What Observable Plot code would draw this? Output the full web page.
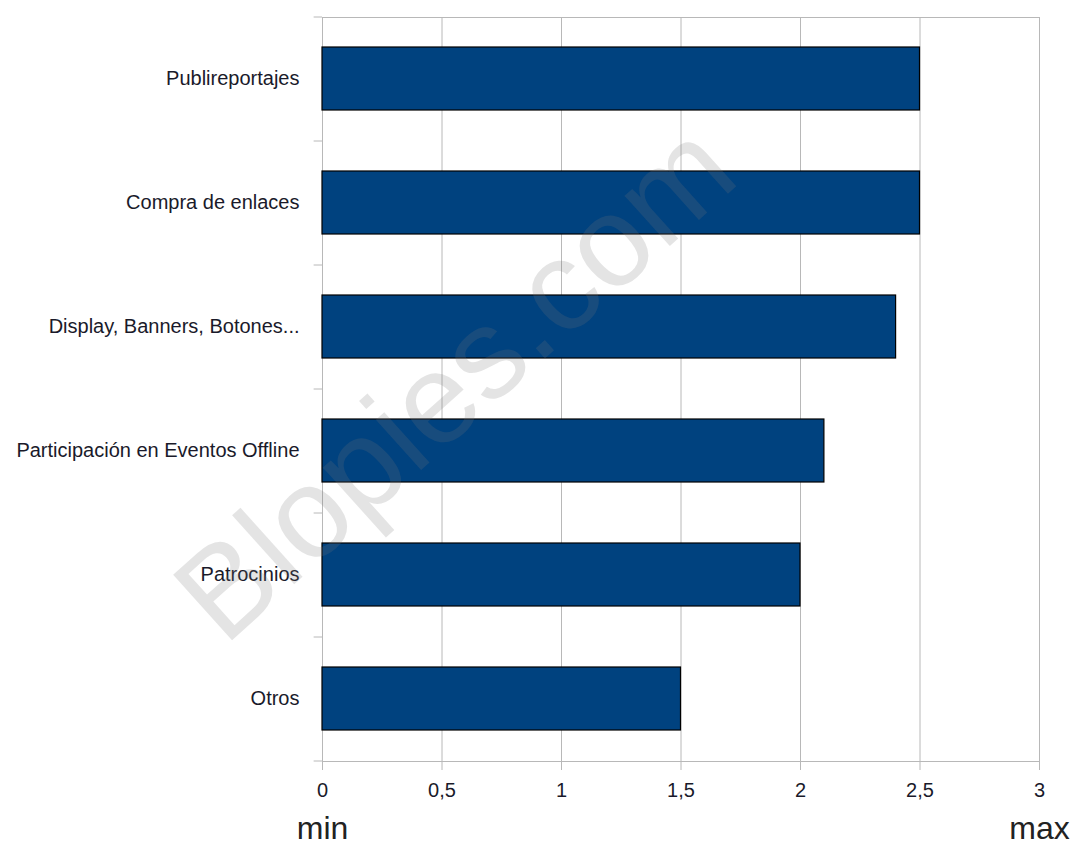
<!DOCTYPE html>
<html><head><meta charset="utf-8">
<script src="https://cdn.jsdelivr.net/npm/d3@7"></script>
<script src="https://cdn.jsdelivr.net/npm/@observablehq/plot@0.6"></script>
<style>body{margin:0;background:#fff}</style>
</head><body><div id="chart"></div>
<script>
const categories = ["Publireportajes","Compra de enlaces","Display, Banners, Botones...","Participación en Eventos Offline","Patrocinios","Otros"];
const values = [2.5, 2.5, 2.4, 2.1, 2.0, 1.5];
const xTicks = [0, 0.5, 1, 1.5, 2, 2.5, 3];
const endLabels = ["min", "max"];
const endPositions = [0, 3];
const watermark = ["Blopies.com"];

const data = categories.map((c, i) => ({category: c, value: values[i]}));
const ends = endLabels.map((t, i) => ({label: t, pos: endPositions[i]}));
const grey = "#b8b8b8";
const font = "Liberation Sans, Arial, sans-serif";

const chart = Plot.plot({
  width: 1073, height: 846,
  marginLeft: 322, marginRight: 34, marginTop: 17, marginBottom: 85,
  style: {fontFamily: font, fontSize: "20px", color: "#1a1a2a", background: "#fff"},
  x: {domain: [0, 3], ticks: xTicks, tickFormat: d => String(d).replace(".", ","), tickSize: 9, tickPadding: 12, label: null},
  y: {domain: categories, paddingInner: 0.49, paddingOuter: 0.245, tickSize: 0, tickPadding: 23, label: null},
  marks: [
    Plot.gridX(xTicks, {stroke: grey, strokeOpacity: 1}),
    Plot.frame({stroke: grey}),
    Plot.ruleY(categories, {y: d => d, x1: -0.035, x2: 0, dy: -62, stroke: grey}),
    Plot.ruleY([categories[categories.length - 1]], {y: d => d, x1: -0.035, x2: 0, dy: 62, stroke: grey}),
    Plot.barX(data, {y: "category", x: "value", fill: "#00427f", stroke: "#000", strokeWidth: 1.2}),
    Plot.axisX({ticks: xTicks, tickFormat: d => String(d).replace(".", ","), tickSize: 9, tickPadding: 12, stroke: grey, fill: "#1a1a2a"}),
    Plot.axisY({tickSize: 0, tickPadding: 23, fill: "#1a1a2a"}),
    Plot.text(ends, {x: "pos", y: () => categories[categories.length - 1], text: "label", lineAnchor: "bottom", dy: 140, fontSize: 32, fill: "#222"}),
    Plot.text(watermark, {text: d => d, frameAnchor: "middle", dx: -225, dy: -6, rotate: -42, fontSize: 128, fill: "#777", fillOpacity: 0.2})
  ]
});
document.getElementById("chart").appendChild(chart);
</script></body></html>
